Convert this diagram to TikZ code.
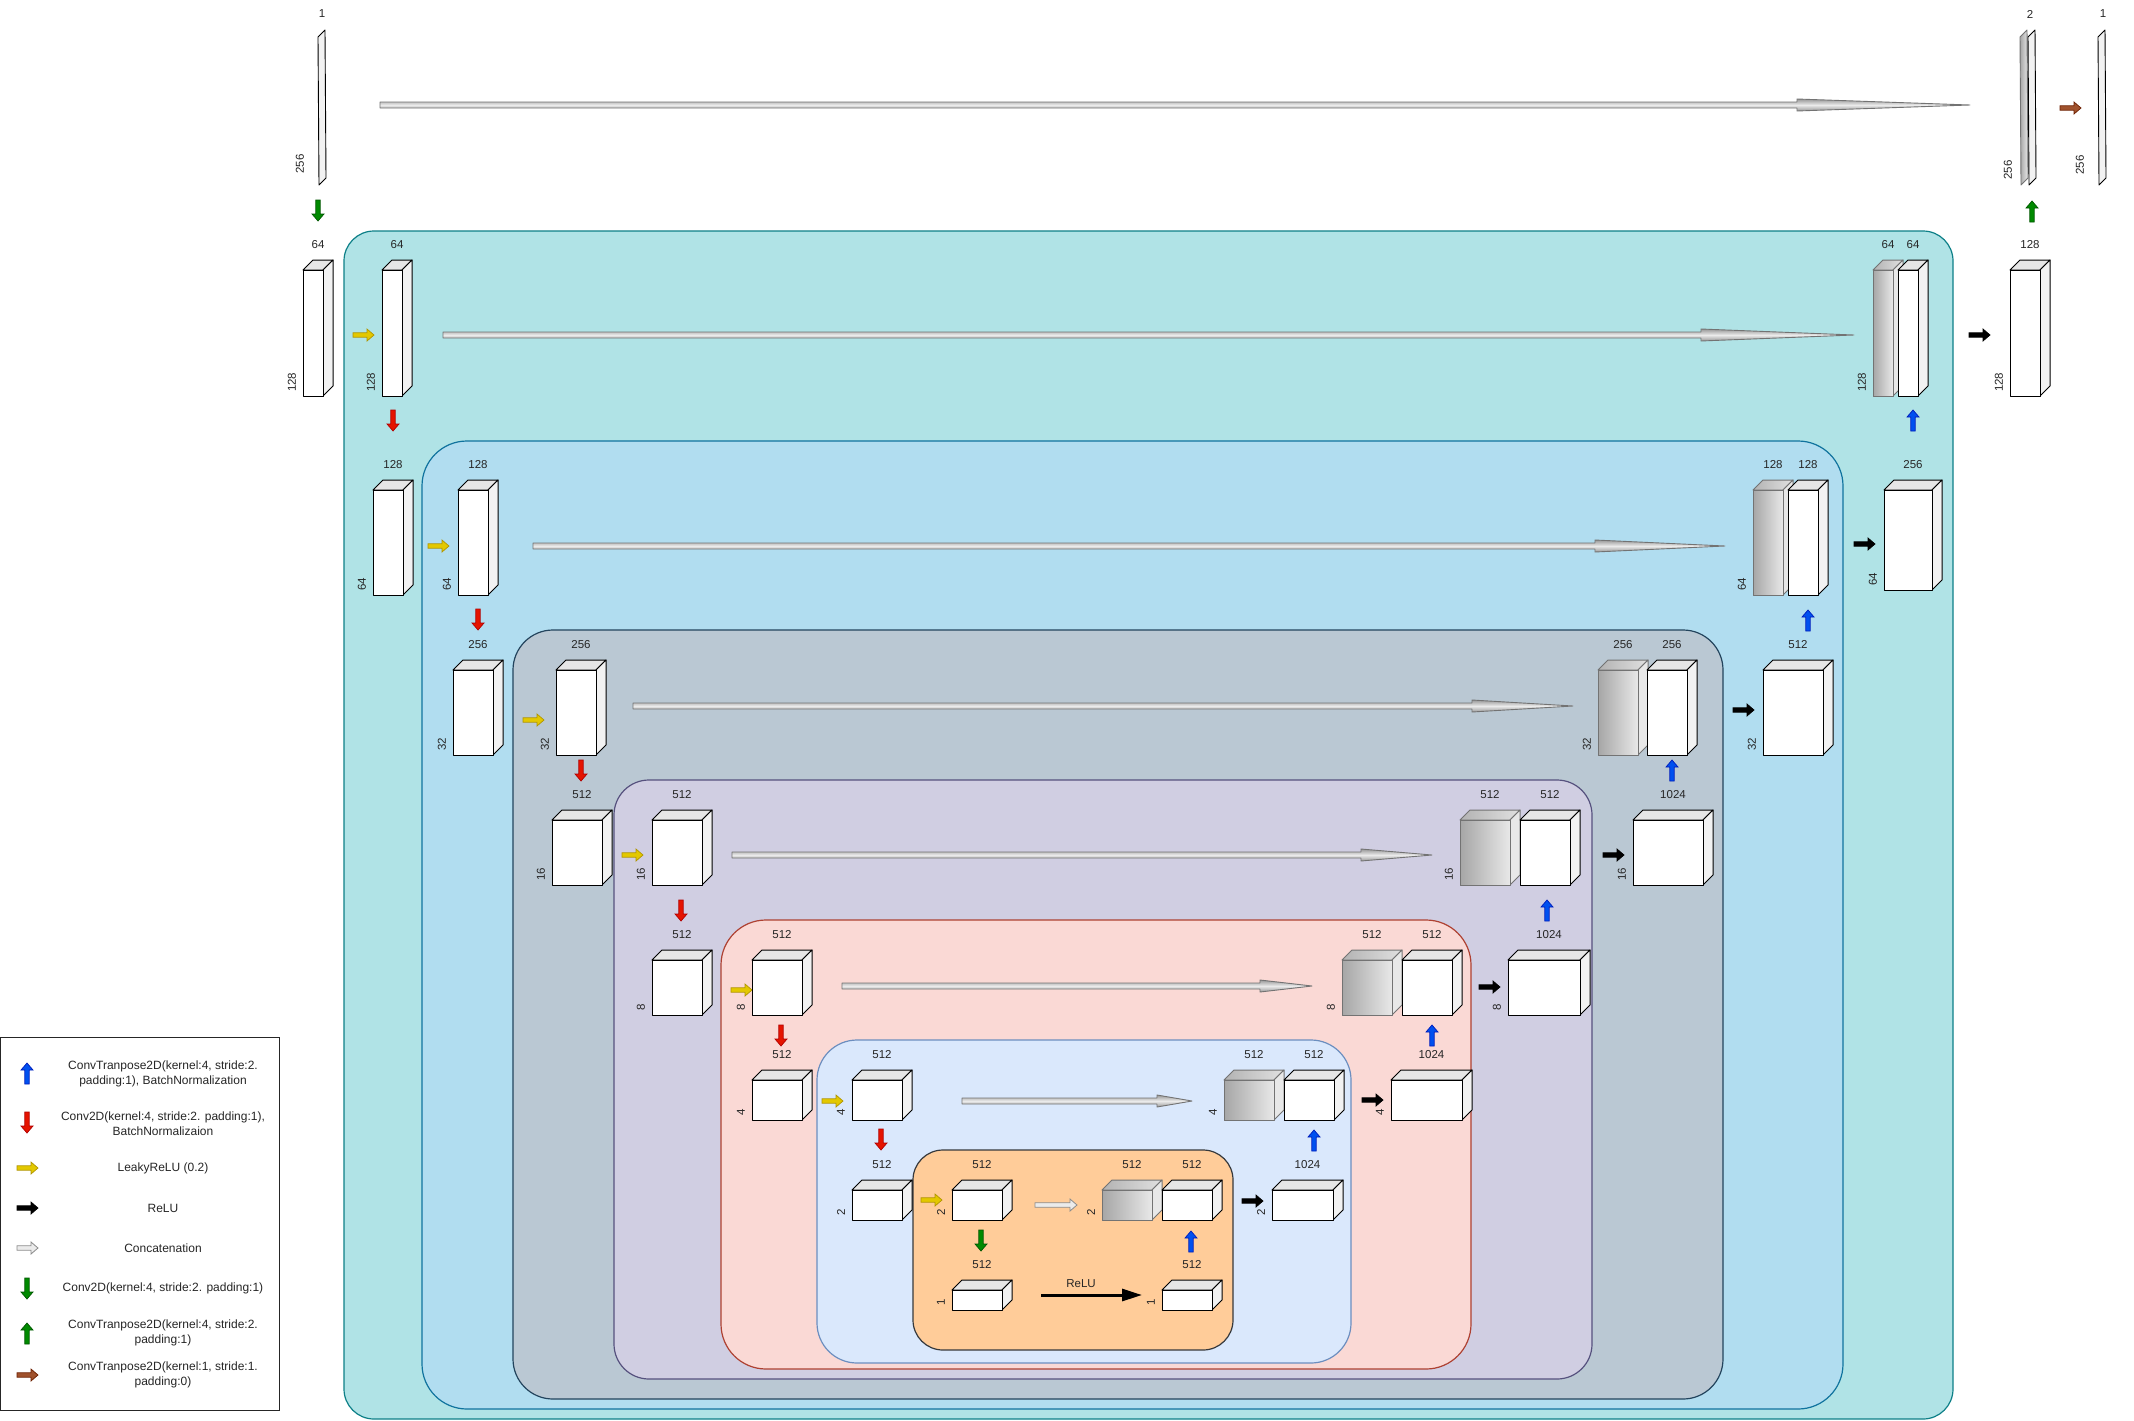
\documentclass[tikz,border=0pt]{standalone}
\usepackage{fontspec}
\setmainfont{Liberation Sans}
\usetikzlibrary{arrows.meta}

% region colours
\definecolor{tealfill}{HTML}{B0E3E6}\definecolor{tealline}{HTML}{0E8088}
\definecolor{bluefill}{HTML}{B1DDF0}\definecolor{blueline}{HTML}{10739E}
\definecolor{slatefill}{HTML}{BAC8D3}\definecolor{slateline}{HTML}{23445D}
\definecolor{lavfill}{HTML}{D0CEE2}\definecolor{lavline}{HTML}{56517E}
\definecolor{pinkfill}{HTML}{FAD9D5}\definecolor{pinkline}{HTML}{AE4132}
\definecolor{skyfill}{HTML}{DAE8FC}\definecolor{skyline}{HTML}{6C8EBF}
\definecolor{orangefill}{HTML}{FFCC99}\definecolor{orangeline}{HTML}{36393D}
% arrow colours
\definecolor{arrblue}{HTML}{0050EF}\definecolor{arrblueline}{HTML}{001DBC}
\definecolor{arrred}{HTML}{E51400}\definecolor{arrredline}{HTML}{B20000}
\definecolor{arryellow}{HTML}{E3C800}\definecolor{arryellowline}{HTML}{B09500}
\definecolor{arrgreen}{HTML}{008A00}\definecolor{arrgreenline}{HTML}{005700}
\definecolor{arrbrown}{HTML}{A0522D}\definecolor{arrbrownline}{HTML}{6D1F00}
% box faces
\definecolor{topface}{HTML}{E6E6E6}\definecolor{sideface}{HTML}{F2F2F2}
\definecolor{copydark}{HTML}{A6A6A6}\definecolor{copylight}{HTML}{E8E8E8}

\tikzset{
  boxline/.style={draw=black, line width=1pt, line join=round},
  copyline/.style={draw=black!55, line width=1pt, line join=round},
  dimtext/.style={font=\fontsize{11.5}{13}\selectfont, text=black!85, inner sep=0pt},
  legendtext/.style={font=\fontsize{12}{15}\selectfont, align=center, text=black!85, inner sep=0pt},
  region/.style={line width=1.2pt},
  upblue/.style={fill=arrblue, draw=arrblueline, line width=0.7pt},
  downred/.style={fill=arrred, draw=arrredline, line width=0.7pt},
  leaky/.style={fill=arryellow, draw=arryellowline, line width=0.7pt},
  relu/.style={fill=black, draw=black, line width=0.7pt},
  concatsmall/.style={fill=black!8, draw=black!45, line width=0.8pt},
  downgreen/.style={fill=arrgreen, draw=arrgreenline, line width=0.7pt},
  upgreen/.style={fill=arrgreen, draw=arrgreenline, line width=0.7pt},
  outbrown/.style={fill=arrbrown, draw=arrbrownline, line width=0.7pt},
  skipline/.style={draw=black!55, line width=0.9pt, line join=round},
}

% name, x1, x2, y1, y2, top label, side label
\newcommand{\layerbox}[7]{%
  \filldraw[boxline, fill=topface] (#2,#4) -- ++(10,-10) -- ({#3+10},{#4-10}) -- (#3,#4) -- cycle;
  \filldraw[boxline, fill=sideface] (#3,#4) -- ++(10,-10) -- ({#3+10},{#5-10}) -- (#3,#5) -- cycle;
  \filldraw[boxline, fill=white] (#2,#4) rectangle (#3,#5);
  \node[dimtext] (#1-top) at ({(#2+#3+10)/2},{#4-25}) {#6};
  \node[dimtext, rotate=90, anchor=west] (#1-side) at ({#2-11},{#5-4}) {#7};
}
% copied (concatenated) box, same arguments
\newcommand{\copybox}[7]{%
  \shadedraw[copyline, left color=black!30, right color=black!12] (#2,#4) -- ++(10,-10) -- ({#3+10},{#4-10}) -- (#3,#4) -- cycle;
  \filldraw[copyline, fill=copylight] (#3,#4) -- ++(10,-10) -- ({#3+10},{#5-10}) -- (#3,#5) -- cycle;
  \shadedraw[copyline, left color=copydark, right color=copylight] (#2,#4) rectangle (#3,#5);
  \node[dimtext] (#1-top) at ({(#2+#3+10)/2},{#4-25}) {#6};
  \node[dimtext, rotate=90, anchor=west] (#1-side) at ({#2-11},{#5-4}) {#7};
}
% thin slab: x, y1, y2, fill
\newcommand{\slab}[4]{%
  \filldraw[boxline, line width=0.9pt, fill=#4] (#1,#2) -- ++(7,-7) -- ({#1+8},{#3-7}) -- ({#1+1},#3) -- cycle;
}
% block arrow: [length] style, x, y, angle
\newcommand{\blockarrow}[5][21]{%
  \filldraw[#2, shift={(#3,#4)}, rotate=#5] (0,-2.2) -- ({#1-7},-2.2) -- ({#1-7},-6) -- (#1,0)
    -- ({#1-7},6) -- ({#1-7},2.2) -- (0,2.2) -- cycle;
}
% skip connection: x start, head start, tip, y
\newcommand{\skiparrow}[4]{%
  \shadedraw[skipline, top color=black!40, bottom color=black!40, middle color=black!8]
    (#1,{#4-3}) -- (#2,{#4-3}) -- (#2,{#4-6}) -- (#3,#4) -- (#2,{#4+6}) -- (#2,{#4+3}) -- (#1,{#4+3}) -- cycle;
}

\begin{document}
\begin{tikzpicture}[x=1pt, y=-1pt]
  \useasboundingbox (0,0) rectangle (2134,1421);
  \fill[white] (0,0) rectangle (2134,1421);

  % nested regions
  \foreach \fc/\dc/\xa/\ya/\xb/\yb/\rad in {
      tealfill/tealline/344/231/1953/1419/30,
      bluefill/blueline/422/441/1843/1409/45,
      slatefill/slateline/513/630/1723/1399/40,
      lavfill/lavline/614/780/1592/1379/35,
      pinkfill/pinkline/721/920/1471/1369/45,
      skyfill/skyline/817/1040/1351/1363/40,
      orangefill/orangeline/913/1150/1233/1350/30}
    {
      \filldraw[region, fill=\fc, draw=\dc, rounded corners=\rad pt] (\xa,\ya) rectangle (\xb,\yb);
    }

  % input / output slabs
  \slab{318}{37}{185}{sideface}
  \node[dimtext] (in-top) at (322,14) {1};
  \node[dimtext, rotate=90] (in-side) at (300,164) {256};
  \blockarrow{downgreen}{318}{200}{-90}
  \skiparrow{380}{1797}{1970}{105}
  \shadedraw[copyline, line width=0.9pt, left color=copydark, right color=copylight]
    (2020,37) -- ++(7,-7) -- (2028,178) -- (2021,185) -- cycle;
  \slab{2028}{37}{185}{sideface}
  \node[dimtext] (cat-top) at (2030,14) {2};
  \node[dimtext, rotate=90] (cat-side) at (2008,170) {256};
  \blockarrow{outbrown}{2060}{108}{0}
  \slab{2098}{37}{185}{sideface}
  \node[dimtext] (out-top) at (2103,14) {1};
  \node[dimtext, rotate=90] (out-side) at (2080,165) {256};

  % level 1
  \layerbox{e0}{303}{323}{270}{396}{64}{128}
  \blockarrow{leaky}{353}{335}{0}
  \layerbox{e1}{382}{402}{270}{396}{64}{128}
  \blockarrow{downred}{393}{410}{-90}
  \skiparrow{443}{1701}{1854}{335}
  \copybox{c1}{1873}{1893}{270}{396}{64}{128}
  \layerbox{d1}{1898}{1918}{270}{396}{64}{}
  \blockarrow{upblue}{1913}{431}{90}
  \blockarrow{relu}{1969}{335}{0}
  \layerbox{o1}{2010}{2040}{270}{396}{128}{128}
  \blockarrow{upgreen}{2032}{222}{90}

  % level 2
  \layerbox{e2a}{373}{403}{490}{595}{128}{64}
  \blockarrow{leaky}{428}{546}{0}
  \layerbox{e2}{458}{488}{490}{595}{128}{64}
  \blockarrow{downred}{478}{609}{-90}
  \skiparrow{533}{1595}{1725}{546}
  \copybox{c2}{1753}{1783}{490}{595}{128}{64}
  \layerbox{d2}{1788}{1818}{490}{595}{128}{}
  \blockarrow{upblue}{1808}{631}{90}
  \blockarrow{relu}{1854}{544}{0}
  \layerbox{o2}{1884}{1932}{490}{590}{256}{64}

  % level 3
  \layerbox{e3a}{453}{493}{670}{755}{256}{32}
  \blockarrow{leaky}{523}{720}{0}
  \layerbox{e3}{556}{596}{670}{755}{256}{32}
  \blockarrow{downred}{581}{760}{-90}
  \skiparrow{633}{1472}{1573}{706}
  \copybox{c3}{1598}{1638}{670}{755}{256}{32}
  \layerbox{d3}{1647}{1687}{670}{755}{256}{}
  \blockarrow{upblue}{1672}{781}{90}
  \blockarrow{relu}{1733}{710}{0}
  \layerbox{o3}{1763}{1823}{670}{755}{512}{32}

  % level 4
  \layerbox{e4a}{552}{602}{820}{885}{512}{16}
  \blockarrow{leaky}{622}{855}{0}
  \layerbox{e4}{652}{702}{820}{885}{512}{16}
  \blockarrow{downred}{681}{900}{-90}
  \skiparrow{732}{1361}{1432}{855}
  \copybox{c4}{1460}{1510}{820}{885}{512}{16}
  \layerbox{d4}{1520}{1570}{820}{885}{512}{}
  \blockarrow{upblue}{1547}{921}{90}
  \blockarrow{relu}{1603}{855}{0}
  \layerbox{o4}{1633}{1703}{820}{885}{1024}{16}

  % level 5
  \layerbox{e5a}{652}{702}{960}{1015}{512}{8}
  \blockarrow{leaky}{731}{990}{0}
  \layerbox{e5}{752}{802}{960}{1015}{512}{8}
  \blockarrow{downred}{781}{1025}{-90}
  \skiparrow{842}{1260}{1312}{986}
  \copybox{c5}{1342}{1392}{960}{1015}{512}{8}
  \layerbox{d5}{1402}{1452}{960}{1015}{512}{}
  \blockarrow{upblue}{1432}{1046}{90}
  \blockarrow{relu}{1479}{987}{0}
  \layerbox{o5}{1508}{1580}{960}{1015}{1024}{8}

  % level 6
  \layerbox{e6a}{752}{802}{1080}{1120}{512}{4}
  \blockarrow{leaky}{822}{1101}{0}
  \layerbox{e6}{852}{902}{1080}{1120}{512}{4}
  \blockarrow{downred}{881}{1129}{-90}
  \skiparrow{962}{1157}{1192}{1101}
  \copybox{c6}{1224}{1274}{1080}{1120}{512}{4}
  \layerbox{d6}{1284}{1334}{1080}{1120}{512}{}
  \blockarrow{upblue}{1314}{1151}{90}
  \blockarrow{relu}{1362}{1100}{0}
  \layerbox{o6}{1391}{1462}{1080}{1120}{1024}{4}

  % level 7 (bottleneck)
  \layerbox{e7a}{852}{902}{1190}{1220}{512}{2}
  \blockarrow{leaky}{921}{1200}{0}
  \layerbox{e7}{952}{1002}{1190}{1220}{512}{2}
  \blockarrow[42]{concatsmall}{1035}{1205}{0}
  \copybox{c7}{1102}{1152}{1190}{1220}{512}{2}
  \layerbox{d7}{1162}{1212}{1190}{1220}{512}{}
  \blockarrow{downgreen}{981}{1230}{-90}
  \layerbox{b7}{952}{1002}{1290}{1310}{512}{1}
  \layerbox{u7}{1162}{1212}{1290}{1310}{512}{1}
  \coordinate (relu-a) at (1041,1295);
  \coordinate (relu-b) at (1142,1295);
  \draw[line width=3pt, -{Triangle[length=20pt, width=12pt]}] (relu-a) -- (relu-b);
  \node[dimtext] (relu-lbl) at (1081,1284) {ReLU};
  \blockarrow{upblue}{1191}{1252}{90}
  \blockarrow{relu}{1242}{1201}{0}
  \layerbox{o7}{1272}{1333}{1190}{1220}{1024}{2}

  % legend
  \draw[line width=1pt, black!85] (0,1037) rectangle (279,1410);
  \blockarrow{upblue}{27}{1084}{90}
  \node[legendtext] (lg1) at (163,1074) {ConvTranpose2D(kernel:4, stride:2.\\padding:1), BatchNormalization};
  \blockarrow{downred}{27}{1112}{-90}
  \node[legendtext] (lg2) at (163,1124) {Conv2D(kernel:4, stride:2. padding:1),\\BatchNormalizaion};
  \blockarrow{leaky}{17}{1168}{0}
  \node[legendtext] (lg3) at (163,1168) {LeakyReLU (0.2)};
  \blockarrow{relu}{17}{1208}{0}
  \node[legendtext] (lg4) at (163,1208) {ReLU};
  \blockarrow{concatsmall}{17}{1248}{0}
  \node[legendtext] (lg5) at (163,1248) {Concatenation};
  \blockarrow{downgreen}{27}{1278}{-90}
  \node[legendtext] (lg6) at (163,1288) {Conv2D(kernel:4, stride:2. padding:1)};
  \blockarrow{upgreen}{27}{1344}{90}
  \node[legendtext] (lg7) at (163,1333) {ConvTranpose2D(kernel:4, stride:2.\\padding:1)};
  \blockarrow{outbrown}{17}{1375}{0}
  \node[legendtext] (lg8) at (163,1375) {ConvTranpose2D(kernel:1, stride:1.\\padding:0)};
\end{tikzpicture}
\end{document}
